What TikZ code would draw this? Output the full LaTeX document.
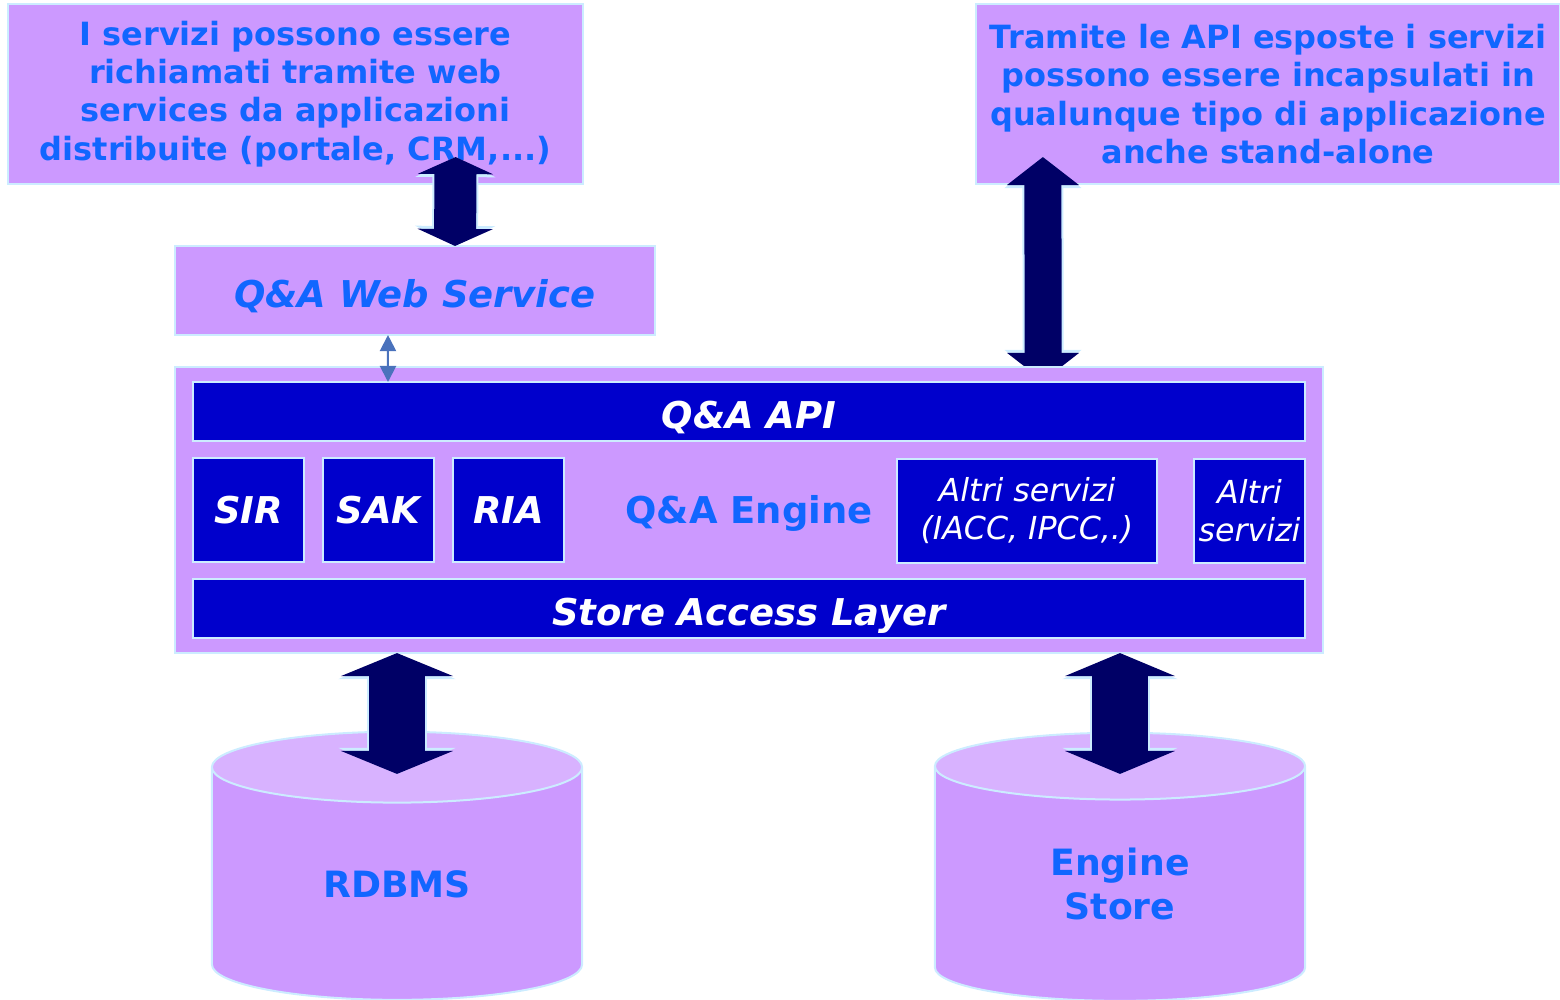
\documentclass[tikz,border=0pt]{standalone}
\usepackage{fontspec}
\setmainfont{DejaVu Sans}
\usetikzlibrary{shapes.geometric, arrows.meta, positioning}
\pgfdeclarelayer{back}
\pgfsetlayers{back,main}
\definecolor{lilac}{HTML}{CC99FF}
\definecolor{lilactop}{HTML}{D8B2FF}
\definecolor{edge}{HTML}{CCECFF}
\definecolor{royal}{HTML}{0000CC}
\definecolor{navy}{HTML}{000066}
\definecolor{txtblue}{HTML}{1166FF}
\definecolor{steel}{HTML}{4A72BC}
\tikzset{
    note/.style={
        draw=edge, line width=0.02cm, fill=lilac, text=txtblue, align=center, inner sep=0pt, outer sep=0pt, font=\fontsize{9.1}{10.9}\selectfont\bfseries
    },
    bar/.style={
        draw=edge, line width=0.02cm, fill=royal, text=white, inner sep=0pt, outer sep=0pt, minimum width=11.12cm, minimum height=0.59cm, text height=9.6pt, text depth=0pt, font=\fontsize{10.5}{12}\selectfont\bfseries\itshape
    },
    service/.style={
        draw=edge, line width=0.02cm, fill=royal, text=white, inner sep=0pt, outer sep=0pt, minimum width=1.11cm, minimum height=1.04cm, align=center, font=\fontsize{10.5}{12}\selectfont\bfseries\itshape
    },
    other/.style={
        service, font=\fontsize{9}{10.8}\selectfont\itshape
    },
    store/.style={
        cylinder, shape border rotate=90, draw=edge, line width=0.02cm, cylinder uses custom fill, cylinder body fill=lilac, cylinder end fill=lilactop, minimum width=3.7cm, minimum height=2.68cm, aspect=0.48, inner sep=0pt, outer sep=0pt, align=center, text=txtblue, font=\fontsize{10.3}{12.5}\selectfont\bfseries
    },
    bigarrow/.style args={#1/#2/#3}{
        color=navy, line width=#1, arrows={Triangle[width=#2, length=#3, line width=0pt]-Triangle[width=#2, length=#3, line width=0pt]},
        preaction={draw=edge, line width=#1+0.04cm, arrows={Triangle[width=#2+0.05cm, length=#3+0.03cm, line width=0pt]-Triangle[width=#2+0.05cm, length=#3+0.03cm, line width=0pt]}}
    },
    thinarrow/.style={
        draw=steel, line width=0.02cm, {Triangle[width=0.16cm, length=0.16cm]}-{Triangle[width=0.16cm, length=0.16cm]}
    }
}
\begin{document}
\begin{tikzpicture}[x=0.01cm, y=-0.01cm]
    \useasboundingbox (0,0) rectangle (1560,1000);

    % boxes
    \node (callers) [note, minimum width=5.75cm, minimum height=1.8cm] at (295.5,94) {I servizi possono essere\\richiamati tramite web\\services da applicazioni\\distribuite (portale, CRM,...)};
    \node (webservice) [note, minimum width=4.8cm, minimum height=0.89cm, text height=9.6pt, text depth=0pt, font=\fontsize{10.5}{12}\selectfont\bfseries\itshape] at (415,290.5) {Q\&A Web Service};
    \node (engine) [note, minimum width=11.48cm, minimum height=2.86cm] at (749,510) {};
    \node (api) [bar] at (749,411.5) {Q\&A API};
    \node (sir) [service] at (248.5,510) {SIR};
    \node (sak) [service, right=0.19cm of sir] {SAK};
    \node (ria) [service, right=0.19cm of sak] {RIA};
    \node (englabel) [text=txtblue, font=\fontsize{10.5}{12}\selectfont\bfseries] at (749,513) {Q\&A Engine};
    \node (others) [other, minimum width=2.6cm] at (1027,511) {Altri servizi\\(IACC, IPCC,.)};
    \node (more) [other] at (1249.5,511) {Altri\\servizi};
    \node (access) [bar] at (749,608.5) {Store Access Layer};
    \node (rdbms) [store] at (397,884) {RDBMS};
    \node (enginestore) [store] at (1120,884) {Engine\\Store};

    % arrows
    \draw [bigarrow=0.42cm/0.75cm/0.17cm] ([xshift=1.6cm, yshift=0.27cm]callers.south) -- ([xshift=0.4cm]webservice.north);
    \draw [thinarrow] ([xshift=-0.27cm]webservice.south) -- (api.north -| {388,0});
    \draw [bigarrow=0.55cm/1.12cm/0.23cm] (engine.south -| rdbms) -- ([yshift=1.1cm]rdbms.center);
    \draw [bigarrow=0.55cm/1.1cm/0.23cm] (engine.south -| enginestore) -- ([yshift=1.1cm]enginestore.center);

    \begin{pgfonlayer}{back}
        \node (apps) [note, minimum width=5.84cm, minimum height=1.8cm] at (1268,94) {Tramite le API esposte i servizi\\possono essere incapsulati in\\qualunque tipo di applicazione\\anche stand-alone};
        \draw [bigarrow=0.37cm/0.72cm/0.28cm] ([xshift=-2.25cm, yshift=0.27cm]apps.south) -- ([xshift=2.94cm, yshift=-0.14cm]engine.north);
    \end{pgfonlayer}

\end{tikzpicture}
\end{document}
